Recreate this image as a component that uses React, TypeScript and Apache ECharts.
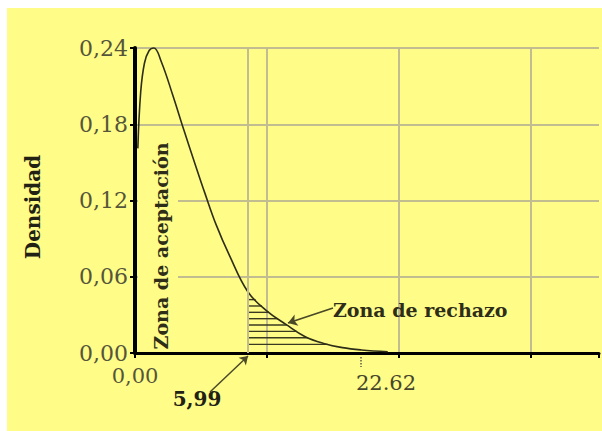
import React, { useEffect, useRef } from 'react';
import * as echarts from 'echarts';

// Density curve (x in axis units, y = density)
const curveX = [0.15, 0.3, 0.5, 0.75, 1.0, 1.4, 2.0, 2.6, 3.2, 3.7, 4.3, 5.0, 5.99, 7.0, 8.0, 9.0, 10.0, 11.0, 12.0, 13.4];
const curveY = [0.161, 0.205, 0.228, 0.238, 0.24, 0.229, 0.203, 0.175, 0.148, 0.126, 0.101, 0.077, 0.048, 0.033, 0.0225, 0.013, 0.0075, 0.0042, 0.0024, 0.001];

const yTickLabels = ['0,00', '0,06', '0,12', '0,18', '0,24'];
const xTickLabels = ['0,00'];
const criticalValue = 5.99;
const criticalLabel = '5,99';
const statLabel = '22.62';
const hatchLevels = [0.0068, 0.012, 0.017, 0.022, 0.027, 0.032, 0.037, 0.042];

const YELLOW = '#FFFC88';
const GRID = '#c2bd90';
const INK = '#2e2e18';
const LABEL = '#55553a';
const SERIF = "'DejaVu Serif', serif";

function yAt(x: number): number {
  for (let i = 0; i < curveX.length - 1; i++) {
    if (x >= curveX[i] && x <= curveX[i + 1]) {
      const t = (x - curveX[i]) / (curveX[i + 1] - curveX[i]);
      return curveY[i] + t * (curveY[i + 1] - curveY[i]);
    }
  }
  return 0;
}

function xWhereDropsTo(h: number, from: number): number {
  for (let i = 0; i < curveX.length - 1; i++) {
    if (curveX[i + 1] < from) continue;
    if (curveY[i] >= h && curveY[i + 1] <= h) {
      const t = (curveY[i] - h) / (curveY[i] - curveY[i + 1]);
      return Math.max(from, curveX[i] + t * (curveX[i + 1] - curveX[i]));
    }
  }
  return curveX[curveX.length - 1];
}

export default function App() {
  const ref = useRef<HTMLDivElement>(null);

  useEffect(() => {
    if (!ref.current) return;
    const chart = echarts.init(ref.current, null, { renderer: 'svg' });
    chart.setOption({
      animation: false,
      backgroundColor: 'transparent',
      grid: { left: 135, right: 0, top: 48, bottom: 78, containLabel: false },
      xAxis: {
        type: 'value',
        min: 0,
        max: 24.6,
        interval: 7,
        axisLine: { show: true, lineStyle: { color: '#000', width: 3 } },
        axisTick: { show: true, length: 5, lineStyle: { color: '#000', width: 2 } },
        axisLabel: {
          margin: 12,
          color: LABEL,
          fontFamily: SERIF,
          fontSize: 21,
          formatter: (v: number, i: number) => (i === 0 ? xTickLabels[0] : ''),
        },
        splitLine: { show: true, showMinLine: false, showMaxLine: false, lineStyle: { color: GRID, width: 2 } },
      },
      yAxis: {
        type: 'value',
        min: 0,
        max: 0.24,
        interval: 0.06,
        axisLine: { show: true, lineStyle: { color: '#000', width: 4 } },
        axisTick: { show: true, length: 5, lineStyle: { color: '#000', width: 2 } },
        axisLabel: {
          margin: 7,
          color: LABEL,
          fontFamily: SERIF,
          fontSize: 22,
          formatter: (v: number, i: number) => yTickLabels[i] ?? '',
        },
        splitLine: { show: true, showMinLine: false, lineStyle: { color: GRID, width: 2 } },
      },
      series: [
        {
          type: 'line',
          data: curveX.map((x, i) => [x, curveY[i]]),
          smooth: 0.4,
          showSymbol: false,
          clip: false,
          z: 3,
          lineStyle: { color: INK, width: 1.6 },
          silent: true,
          markLine: {
            silent: true,
            animation: false,
            label: { show: false },
            emphasis: { disabled: true },
            data: [
              [
                { coord: [criticalValue, 0], symbol: 'none', lineStyle: { color: GRID, width: 2, type: 'solid' } },
                { coord: [criticalValue, 0.24], symbol: 'none' },
              ],
              [
                { x: 210, y: 392, symbol: 'none', lineStyle: { color: '#4a4a28', width: 1.5, type: 'solid' } },
                { x: 248, y: 356, symbol: 'arrow', symbolSize: 8 },
              ],
              [
                { x: 333, y: 308, symbol: 'none', lineStyle: { color: '#4a4a28', width: 1.8, type: 'solid' } },
                { x: 288, y: 323, symbol: 'arrow', symbolSize: 9 },
              ],
            ],
          },
        },
        {
          type: 'custom',
          coordinateSystem: 'cartesian2d',
          data: hatchLevels.map((h) => [criticalValue, h]),
          encode: { x: 0, y: 1 },
          silent: true,
          z: 3,
          renderItem: (params: any, api: any) => {
            const x0 = api.value(0);
            const h = api.value(1);
            const xe = xWhereDropsTo(h, x0);
            const p0 = api.coord([x0, h]);
            const p1 = api.coord([xe, h]);
            const children: any[] = [
              {
                type: 'line',
                shape: { x1: p0[0], y1: p0[1], x2: p1[0], y2: p1[1] },
                style: { stroke: '#3a3a20', lineWidth: 1.4 },
              },
            ];
            if (params.dataIndex === 0) {
              const b = api.coord([x0, 0]);
              const t = api.coord([x0, yAt(x0)]);
              children.push({
                type: 'line',
                shape: { x1: b[0], y1: b[1], x2: t[0], y2: t[1] },
                style: { stroke: '#3a3a20', lineWidth: 1.5 },
              });
            }
            return { type: 'group', children };
          },
        },
      ],
      graphic: [
        {
          type: 'rect',
          z: 1,
          shape: { x: 138, y: 137, width: 40, height: 214 },
          style: { fill: YELLOW },
          silent: true,
        },
        {
          type: 'text',
          z: 2,
          x: 161,
          y: 246,
          rotation: Math.PI / 2,
          style: {
            text: 'Zona de aceptación',
            font: `bold 19px ${SERIF}`,
            fill: INK,
            align: 'center',
            verticalAlign: 'middle',
          },
          silent: true,
        },
        {
          type: 'text',
          z: 2,
          x: 33,
          y: 207,
          rotation: Math.PI / 2,
          style: {
            text: 'Densidad',
            font: `bold 20px ${SERIF}`,
            fill: '#222214',
            align: 'center',
            verticalAlign: 'middle',
          },
          silent: true,
        },
        {
          type: 'text',
          z: 2,
          x: 333,
          y: 310,
          style: {
            text: 'Zona de rechazo',
            font: `bold 19px ${SERIF}`,
            fill: INK,
            align: 'left',
            verticalAlign: 'middle',
          },
          silent: true,
        },
        {
          type: 'text',
          z: 2,
          x: 197,
          y: 399,
          style: {
            text: criticalLabel,
            font: `bold 20px ${SERIF}`,
            fill: '#222214',
            align: 'center',
            verticalAlign: 'middle',
          },
          silent: true,
        },
        {
          type: 'text',
          z: 2,
          x: 386,
          y: 383,
          style: {
            text: statLabel,
            font: `21px ${SERIF}`,
            fill: '#46462c',
            align: 'center',
            verticalAlign: 'middle',
          },
          silent: true,
        },
        {
          type: 'line',
          z: 2,
          shape: { x1: 361, y1: 357, x2: 361, y2: 367 },
          style: { stroke: '#333', lineWidth: 1.2, lineDash: [1.5, 1.5] },
          silent: true,
        },
      ],
    });
    return () => chart.dispose();
  }, []);

  return (
    <div style={{ position: 'fixed', left: 0, top: 0, width: 602, height: 431, background: '#fff', overflow: 'hidden' }}>
      <div style={{ position: 'absolute', left: 7, top: 8, right: 0, bottom: 0, background: YELLOW }} />
      <div ref={ref} style={{ position: 'absolute', left: 0, top: 0, width: 602, height: 431 }} />
    </div>
  );
}
